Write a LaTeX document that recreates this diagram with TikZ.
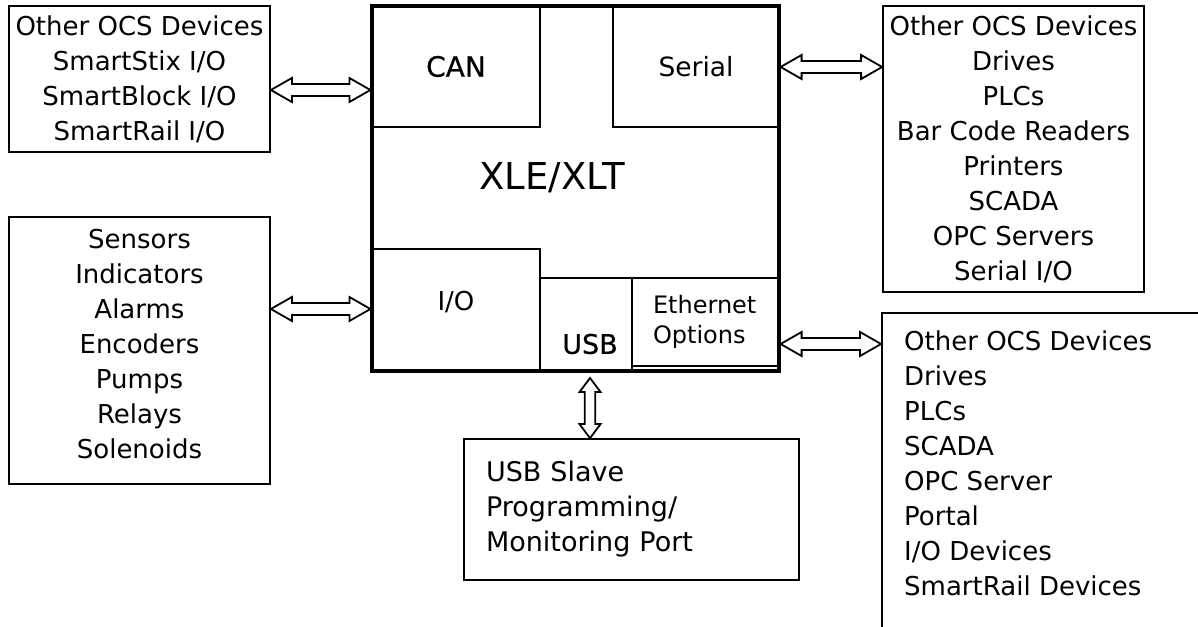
\documentclass[tikz,border=0pt]{standalone}
\usepackage{fontspec}
\setmainfont{DejaVu Sans}
\newfontfamily\medfont[FakeBold=0.6]{DejaVu Sans}
\usetikzlibrary{calc}

% hollow double arrows, left to right and top to bottom
\newcommand{\hlink}[2]{%
  \draw[dbl] let \p1=(#1), \p2=(#2) in
    (\p1) -- (\x1+21pt,\y1+12pt) -- (\x1+21pt,\y1+6pt) -- (\x2-21pt,\y1+6pt)
    -- (\x2-21pt,\y1+12pt) -- (\x2,\y1) -- (\x2-21pt,\y1-12pt) -- (\x2-21pt,\y1-6pt)
    -- (\x1+21pt,\y1-6pt) -- (\x1+21pt,\y1-12pt) -- cycle;}
\newcommand{\vlink}[2]{%
  \draw[dbl] let \p1=(#1), \p2=(#2) in
    (\p1) -- (\x1+10.5pt,\y1-14pt) -- (\x1+5.3pt,\y1-14pt) -- (\x1+5.3pt,\y2+14pt)
    -- (\x1+10.5pt,\y2+14pt) -- (\x1,\y2) -- (\x1-10.5pt,\y2+14pt) -- (\x1-5.3pt,\y2+14pt)
    -- (\x1-5.3pt,\y1-14pt) -- (\x1-10.5pt,\y1-14pt) -- cycle;}

\begin{document}
\begin{tikzpicture}[x=1pt,y=1pt,
    box/.style ={draw, line width=1.8pt, align=center, inner sep=0pt},
    part/.style ={draw, line width=1.5pt, inner sep=0pt},
    list/.style ={font=\fontsize{26}{35}\selectfont},
    dbl/.style ={draw, fill=white, line width=1.8pt}]
   \clip (0,0) rectangle (1198,626);
   \useasboundingbox (0,0) rectangle (1198,626);
   % controller
   \node[draw, line width=3.2pt, minimum width=407, minimum height=365] (xle) at (575.5,437.5) {};
   \node[part, minimum width=168, minimum height=121, font=\medfont\fontsize{28}{34}\selectfont] (can) at (456,559.5) {CAN};
   \node[part, minimum width=166, minimum height=121, font=\fontsize{26.5}{34}\selectfont] (serial) at (696,559.5) {Serial};
   \node[part, minimum width=168, minimum height=122,
     label={[yshift=8, font=\fontsize{26}{30}\selectfont]center:I/O}] (io) at (456,316) {};
   \node[part, minimum width=92, minimum height=93,
     label={[xshift=4, yshift=-19.5, font=\medfont\fontsize{27}{30}\selectfont]center:USB}] (usb) at (586,301.5) {};
   \node[part, minimum width=146, minimum height=88, text width=104, align=left,
     font=\fontsize{24}{30}\selectfont] (ethopt) at (705,304) {Ethernet\\Options};
   \node[font=\fontsize{37}{40}\selectfont] (xlename) at (552,448) {XLE/XLT};
   % devices
   \node[box, list, minimum width=261, minimum height=146] (tl) at (139.5,547)
     {Other OCS Devices\\SmartStix I/O\\SmartBlock I/O\\SmartRail I/O};
   \node[box, list, minimum width=261, minimum height=286] (tr) at (1013.5,477)
     {Other OCS Devices\\Drives\\PLCs\\Bar Code Readers\\Printers\\SCADA\\OPC Servers\\Serial I/O};
   \node[box, list, minimum width=261, minimum height=267, text depth=14] (sens) at (139.5,275.5)
     {Sensors\\Indicators\\Alarms\\Encoders\\Pumps\\Relays\\Solenoids};
   \node[box, minimum width=360, minimum height=400, anchor=north west,
     label={[list, anchor=north west, align=left, inner xsep=23, inner ysep=19]north west:{Other OCS Devices\\Drives\\PLCs\\SCADA\\OPC Server\\Portal\\I/O Devices\\SmartRail Devices}}]
     (eth) at (881,314) {};
   \node[box, minimum width=335, minimum height=141, text width=291, align=left,
     font=\fontsize{27}{35}\selectfont] (prog) at (631.5,116.5) {USB Slave\\Programming/\\Monitoring Port};
   % links
   \hlink{tl.east |- 0,536}{xle.west |- 0,536}
   \hlink{xle.east |- 0,559}{tr.west |- 0,559}
   \hlink{sens.east |- 0,317}{xle.west |- 0,317}
   \hlink{xle.east |- 0,282}{eth.west |- 0,282}
   \vlink{590,248}{prog.north -| 590,0}
\end{tikzpicture}
\end{document}
